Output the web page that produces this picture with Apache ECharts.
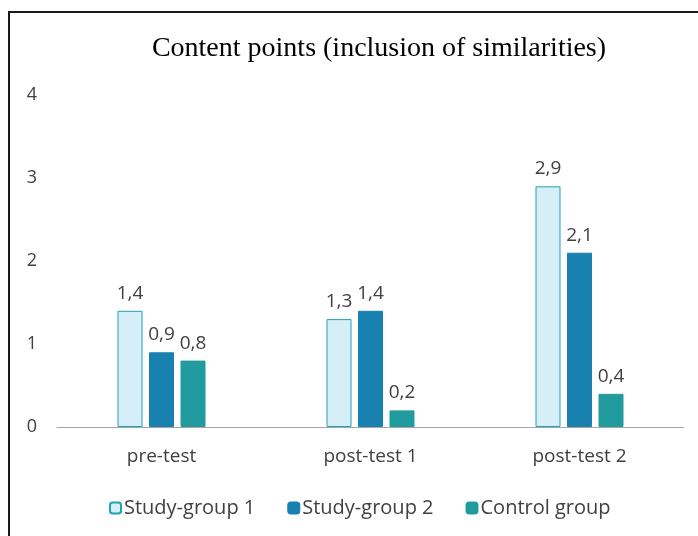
<!DOCTYPE html>
<html>
<head>
    <meta charset="utf-8">
    <title>Content points</title>
    <script src="https://cdn.jsdelivr.net/npm/echarts@6/dist/echarts.min.js"></script>
    <style type="text/css">
        * { margin: 0px; padding: 0px; }
        #main { width: 698px; height: 536px; background: #fff; }
    </style>
</head>
<body>
<div id="main"></div>
<script type="text/javascript">
    // data
    var categories = ['pre-test', 'post-test 1', 'post-test 2'];
    var seriesNames = ['Study-group 1', 'Study-group 2', 'Control group'];
    var group1 = [1.4, 1.3, 2.9];
    var group2 = [0.9, 1.4, 2.1];
    var control = [0.8, 0.2, 0.4];
    var yTicks = [0, 1, 2, 3, 4];

    var chart = echarts.init(document.getElementById('main'));

    var labelFont = 'Open Sans, Noto Sans, sans-serif';

    function comma(p) {
        return String(p.value).replace('.', ',');
    }

    function bar(name, data, fill, border) {
        return {
            name: name,
            type: 'bar',
            data: data,
            barWidth: 25,
            barGap: '26%',
            itemStyle: { color: fill, borderColor: border, borderWidth: 1 },
            label: {
                show: true,
                position: 'top',
                distance: 8,
                formatter: comma,
                color: '#404040',
                fontSize: 19,
                fontFamily: labelFont
            }
        };
    }

    var option = {
        animation: false,
        title: {
            text: 'Content points (inclusion of similarities)',
            left: 374,
            top: 30,
            textAlign: 'center',
            textStyle: {
                fontFamily: 'Liberation Serif, Times New Roman, serif',
                fontWeight: 'normal',
                fontSize: 28,
                color: '#000'
            }
        },
        graphic: [{
            type: 'rect',
            shape: { x: 9, y: 12, width: 800, height: 600 },
            style: { fill: 'none', stroke: '#1a1a1a', lineWidth: 2 },
            silent: true
        }],
        legend: {
            data: seriesNames,
            bottom: 13,
            left: 104,
            itemWidth: 11,
            itemHeight: 11,
            itemGap: 32,
            textStyle: { fontSize: 20, color: '#404040', fontFamily: labelFont, padding: [0, 0, 0, -2] }
        },
        grid: { left: 57, right: 14, top: 95, bottom: 109 },
        xAxis: {
            type: 'category',
            data: categories,
            axisLine: { lineStyle: { color: '#a6a6a6', width: 1 } },
            axisTick: { show: false },
            axisLabel: { color: '#404040', fontSize: 19, fontFamily: labelFont, margin: 20 }
        },
        yAxis: {
            type: 'value',
            min: yTicks[0],
            max: yTicks[yTicks.length - 1],
            interval: 1,
            splitLine: { show: false },
            axisLine: { show: false },
            axisLabel: { color: '#404040', fontSize: 18, fontFamily: labelFont, margin: 20 }
        },
        series: [
            bar(seriesNames[0], group1, '#d5eef8', '#22a3b3'),
            bar(seriesNames[1], group2, '#1881b0', '#1881b0'),
            bar(seriesNames[2], control, '#219b9d', '#219b9d')
        ]
    };

    chart.setOption(option);
</script>
</body>
</html>
